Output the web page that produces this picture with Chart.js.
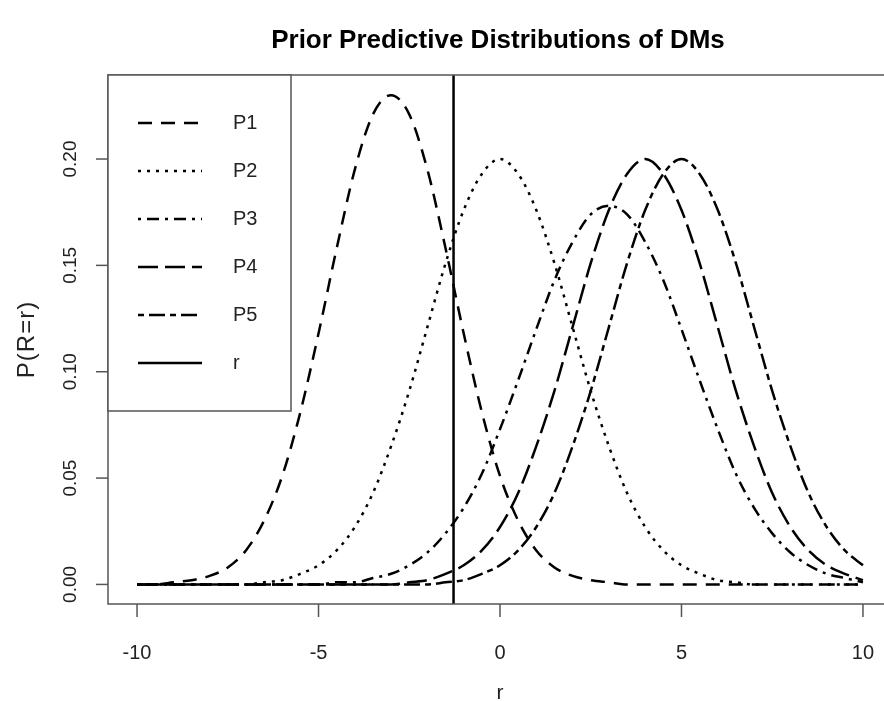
<!DOCTYPE html>
<html>
<head>
<meta charset="utf-8">
<script src="https://cdn.jsdelivr.net/npm/chart.js@4.4.0/dist/chart.umd.min.js"></script>
<style>
    html, body { margin: 0; padding: 0; background: #fff; overflow: hidden; }
    #wrap { width: 900px; height: 701px; position: relative; }
</style>
</head>
<body>
<div id="wrap"><canvas id="chart" width="900" height="701"></canvas></div>
<script>
// r values (x axis)
const rValues = [-10, -9.5, -9, -8.5, -8, -7.5, -7, -6.5, -6, -5.5, -5, -4.5, -4, -3.5, -3, -2.5, -2, -1.5, -1, -0.5,
    0, 0.5, 1, 1.5, 2, 2.5, 3, 3.5, 4, 4.5, 5, 5.5, 6, 6.5, 7, 7.5, 8, 8.5, 9, 9.5, 10];

const p1Values = [0.000, 0.000, 0.001, 0.002, 0.004, 0.008, 0.016, 0.030, 0.051, 0.081, 0.118, 0.158, 0.195, 0.221, 0.230, 0.221, 0.195, 0.158, 0.118, 0.081,
    0.051, 0.030, 0.016, 0.008, 0.004, 0.002, 0.001, 0.000, 0.000, 0.000, 0.000, 0.000, 0.000, 0.000, 0.000, 0.000, 0.000, 0.000, 0.000, 0.000, 0.000];
const p2Values = [0.000, 0.000, 0.000, 0.000, 0.000, 0.000, 0.000, 0.001, 0.002, 0.005, 0.009, 0.016, 0.027, 0.043, 0.065, 0.091, 0.121, 0.151, 0.176, 0.193,
    0.200, 0.193, 0.176, 0.151, 0.121, 0.091, 0.065, 0.043, 0.027, 0.016, 0.009, 0.005, 0.002, 0.001, 0.000, 0.000, 0.000, 0.000, 0.000, 0.000, 0.000];
const p3Values = [0.000, 0.000, 0.000, 0.000, 0.000, 0.000, 0.000, 0.000, 0.000, 0.000, 0.000, 0.001, 0.001, 0.003, 0.005, 0.009, 0.015, 0.024, 0.036, 0.052,
    0.073, 0.096, 0.120, 0.143, 0.161, 0.174, 0.178, 0.174, 0.161, 0.143, 0.120, 0.096, 0.073, 0.052, 0.036, 0.024, 0.015, 0.009, 0.005, 0.003, 0.001];
const p4Values = [0.000, 0.000, 0.000, 0.000, 0.000, 0.000, 0.000, 0.000, 0.000, 0.000, 0.000, 0.000, 0.000, 0.000, 0.000, 0.001, 0.002, 0.005, 0.009, 0.016,
    0.027, 0.043, 0.065, 0.091, 0.121, 0.151, 0.176, 0.193, 0.200, 0.193, 0.176, 0.151, 0.121, 0.091, 0.065, 0.043, 0.027, 0.016, 0.009, 0.005, 0.002];
const p5Values = [0.000, 0.000, 0.000, 0.000, 0.000, 0.000, 0.000, 0.000, 0.000, 0.000, 0.000, 0.000, 0.000, 0.000, 0.000, 0.000, 0.000, 0.001, 0.002, 0.005,
    0.009, 0.016, 0.027, 0.043, 0.065, 0.091, 0.121, 0.151, 0.176, 0.193, 0.200, 0.193, 0.176, 0.151, 0.121, 0.091, 0.065, 0.043, 0.027, 0.016, 0.009];

const observedR = -1.28;

const xTicks = [-10, -5, 0, 5, 10];
const yTicks = [0, 0.05, 0.10, 0.15, 0.20];
const yTickLabels = ['0.00', '0.05', '0.10', '0.15', '0.20'];
const legendLabels = ['P1', 'P2', 'P3', 'P4', 'P5', 'r'];

const FONT = "'Liberation Sans', Arial, sans-serif";

const dashes = [
    [14, 9],          // P1 dashed
    [3, 6],           // P2 dotted
    [3, 6, 12, 6],    // P3 dotdash
    [20, 7],          // P4 longdash
    [6, 5, 16, 5],    // P5 twodash
    []                // r solid
];

function toPoints(values) {
    return values.map(function(v, i) { return { x: rValues[i], y: v }; });
}

const seriesValues = [p1Values, p2Values, p3Values, p4Values, p5Values];
const datasets = seriesValues.map(function(values, i) {
    return {
        label: legendLabels[i],
        data: toPoints(values),
        borderColor: '#000',
        borderWidth: 2.5,
        borderDash: dashes[i],
        borderCapStyle: 'butt',
        cubicInterpolationMode: 'monotone',
        pointRadius: 0,
        fill: false
    };
});
datasets.push({
    label: 'r',
    data: [{ x: observedR, y: -1 }, { x: observedR, y: 1 }],
    borderColor: '#000',
    borderWidth: 2.5,
    pointRadius: 0,
    fill: false
});

const decorPlugin = {
    id: 'decor',
    afterDraw: function(chart) {
        const ctx = chart.ctx;
        const area = chart.chartArea;
        const xs = chart.scales.x;
        const ys = chart.scales.y;
        ctx.save();

        // plot box
        ctx.strokeStyle = '#555';
        ctx.lineWidth = 1.5;
        ctx.setLineDash([]);
        ctx.strokeRect(area.left, area.top, area.right - area.left, area.bottom - area.top);

        // x ticks
        ctx.fillStyle = '#222';
        ctx.font = '20px ' + FONT;
        ctx.textAlign = 'center';
        ctx.textBaseline = 'middle';
        xTicks.forEach(function(t) {
            const px = xs.getPixelForValue(t);
            ctx.beginPath();
            ctx.moveTo(px, area.bottom);
            ctx.lineTo(px, area.bottom + 13);
            ctx.stroke();
            ctx.fillText(String(t), px, 653);
        });

        // y ticks (rotated labels)
        ctx.font = '19px ' + FONT;
        yTicks.forEach(function(t, i) {
            const py = ys.getPixelForValue(t);
            ctx.beginPath();
            ctx.moveTo(area.left, py);
            ctx.lineTo(area.left - 12, py);
            ctx.stroke();
            ctx.save();
            ctx.translate(71, py);
            ctx.rotate(-Math.PI / 2);
            ctx.fillText(yTickLabels[i], 0, 0);
            ctx.restore();
        });

        // axis titles
        ctx.font = '21px ' + FONT;
        ctx.fillText('r', xs.getPixelForValue(0), 693);
        ctx.save();
        ctx.font = '24px ' + FONT;
        ctx.letterSpacing = '1px';
        ctx.translate(27, (area.top + area.bottom) / 2);
        ctx.rotate(-Math.PI / 2);
        ctx.fillText('P(R=r)', 0, 0);
        ctx.restore();

        // title
        ctx.fillStyle = '#000';
        ctx.font = 'bold 26px ' + FONT;
        ctx.fillText('Prior Predictive Distributions of DMs', 498, 41);

        // legend
        const lx = area.left, ly = area.top, lw = 183, lh = 336;
        ctx.fillStyle = '#fff';
        ctx.fillRect(lx, ly, lw, lh);
        ctx.strokeStyle = '#555';
        ctx.lineWidth = 1.5;
        ctx.strokeRect(lx, ly, lw, lh);
        ctx.font = '20px ' + FONT;
        ctx.textAlign = 'left';
        legendLabels.forEach(function(label, i) {
            const y = 123 + i * 48;
            ctx.strokeStyle = '#000';
            ctx.lineWidth = 2.5;
            ctx.lineCap = 'butt';
            ctx.setLineDash(dashes[i]);
            ctx.beginPath();
            ctx.moveTo(138, y);
            ctx.lineTo(202, y);
            ctx.stroke();
            ctx.setLineDash([]);
            ctx.fillStyle = '#222';
            ctx.fillText(label, 233, y);
        });
        ctx.restore();
    }
};

new Chart(document.getElementById('chart').getContext('2d'), {
    type: 'line',
    data: { datasets: datasets },
    options: {
        responsive: false,
        animation: false,
        layout: { padding: { left: 108, top: 75, right: 8, bottom: 97 } },
        plugins: {
            legend: { display: false },
            tooltip: { enabled: false },
            title: { display: false }
        },
        scales: {
            x: { type: 'linear', display: false, min: -10.8, max: 10.8 },
            y: { type: 'linear', display: false, min: -0.0092, max: 0.2395 }
        }
    },
    plugins: [decorPlugin]
});
</script>
</body>
</html>
